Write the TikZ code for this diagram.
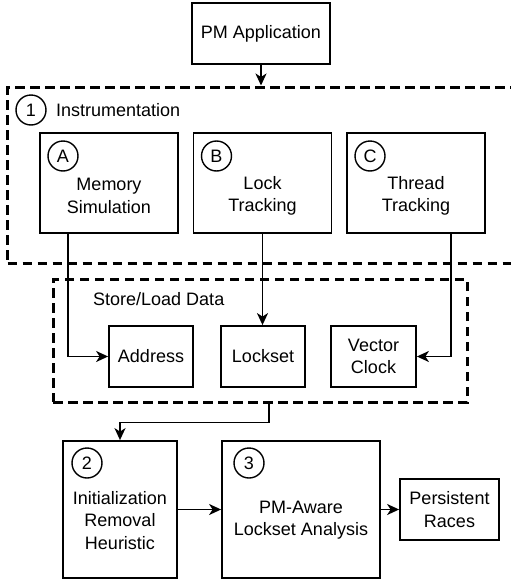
\documentclass[tikz,border=0pt]{standalone}
\usepackage{fontspec}
\setmainfont{Liberation Sans}
\usetikzlibrary{arrows.meta}

\tikzset{
  box/.style={draw, line width=1.8pt, inner sep=0pt, align=center},
  txt/.style={inner sep=0pt, align=center},
  num/.style={draw, circle, line width=1.4pt, minimum size=30pt, inner sep=0pt},
  grp/.style={draw, line width=3pt, dash pattern=on 9.5pt off 5.5pt, inner sep=0pt},
  arr/.style={line width=1.8pt, -{Stealth[length=12pt, width=11pt, inset=3.5pt]}},
}

\begin{document}
\begin{tikzpicture}[x=1pt, y=-1pt, font=\fontsize{18}{22.5}\selectfont]
  \clip (0,0) rectangle (511,581);
  % input program
  \node[box, minimum width=138pt, minimum height=61pt] (app) at (261,33.5) {PM Application};
  % step 1 and its three parts
  \node[grp, minimum width=513pt, minimum height=176pt] (instr) at (264,175) {};
  \node[num] (instr-n) at (31,110) {1};
  \node[txt, anchor=west] (instr-t) at (56,110) {Instrumentation};
  \foreach \n/\x/\l/\t in {memsim/109/A/{Memory\\Simulation}, locktrk/262.5/B/{Lock\\Tracking}, thrtrk/416/C/{Thread\\Tracking}} {
    \node[box, minimum width=138pt, minimum height=100pt] (\n) at (\x,183) {};
    \node[num] (\n-n) at (\x-46,156) {\l};
    \node[txt] (\n-t) at (\x,196) {\t};
  }
  % collected data
  \node[grp, minimum width=414pt, minimum height=123pt] (data) at (260,340.5) {};
  \node[txt, anchor=west] (data-t) at (93,299) {Store/Load Data};
  \node[box, minimum width=84pt, minimum height=61pt] (addr) at (151,356.5) {Address};
  \node[box, minimum width=84pt, minimum height=61pt] (lockset) at (263,356.5) {Lockset};
  \node[box, minimum width=85pt, minimum height=61pt] (vclock) at (373.5,356.5) {Vector\\Clock};
  % steps 2 and 3
  \node[box, minimum width=114pt, minimum height=137pt] (initrm) at (120,509.5) {};
  \node[num] (initrm-n) at (87,463) {2};
  \node[txt] (initrm-t) at (120,520.5) {Initialization\\Removal\\Heuristic};
  \node[box, minimum width=158pt, minimum height=137pt] (analysis) at (301,509.5) {};
  \node[num] (analysis-n) at (249,463) {3};
  \node[txt] (analysis-t) at (301,520) {PM-Aware\\Lockset Analysis};
  \node[box, minimum width=99pt, minimum height=61pt] (races) at (449.5,509.5) {Persistent\\Races};
  % connectors
  \draw[arr] (app.south) -- (app.south |- instr.north);
  \draw[arr] ([xshift=29pt]memsim.south west) |- (addr.west);
  \draw[arr] (locktrk.south) -- (locktrk.south |- lockset.north);
  \draw[arr] ([xshift=35pt]thrtrk.south) |- (vclock.east);
  \draw[arr] ([xshift=9pt]data.south) -- ++(0,19) -| (initrm.north);
  \draw[arr] (initrm.east) -- (analysis.west);
  \draw[arr] (analysis.east) -- (races.west);
\end{tikzpicture}
\end{document}
